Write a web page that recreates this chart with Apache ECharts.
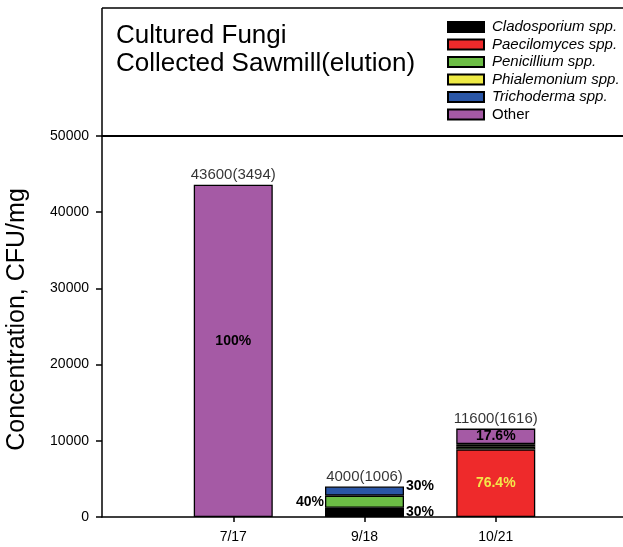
<!DOCTYPE html>
<html>
<head>
<meta charset="utf-8">
<script src="https://cdn.jsdelivr.net/npm/echarts@6/dist/echarts.min.js"></script>
<style>
  html, body { margin: 0; padding: 0; background: #fff; }
  #chart { width: 623px; height: 547px; }
</style>
</head>
<body>
<div id="chart"></div>
<script>
// Sampling dates and totals (mean and SD, CFU/mg)
const dates = ['7/17', '9/18', '10/21'];
const totals = [43600, 4000, 11600];
const sds = [3494, 1006, 1616];

// Stacked contributions by genus
const cladosporium = [0, 1200, 0];
const paecilomyces = [0, 0, 8862];
const penicillium = [0, 1600, 348];
const phialemonium = [0, 0, 348];
const trichoderma = [0, 1200, 0];
const other = [43600, 0, 2042];

// Share labels written on the segments
const cladosporiumPct = ['', '30%', ''];
const paecilomycesPct = ['', '', '76.4%'];
const penicilliumPct = ['', '40%', ''];
const phialemoniumPct = ['', '', ''];
const trichodermaPct = ['', '30%', ''];
const otherPct = ['100%', '', '17.6%'];

// Value axis ticks
const yMin = 0, yMax = 50000, yStep = 10000;

const FONT = '"Liberation Sans", Arial, Helvetica, sans-serif';

// empty slots at both ends keep the axis running from the y axis to the right edge
const cats = [''].concat(dates, ['']);
const pad = arr => [null].concat(arr, [null]);

function segData(values, pcts, labelCfg) {
  return pad(values.map((v, i) => {
    if (!v) return null;
    const item = { value: v };
    if (pcts[i]) {
      item.label = Object.assign({ show: true, formatter: pcts[i] }, labelCfg(i));
    } else {
      item.label = { show: false };
    }
    return item;
  }));
}

const pctStyle = { fontSize: 14, fontWeight: 'bold', color: '#000', fontFamily: FONT };

const seriesDefs = [
  { name: 'Cladosporium spp.', color: '#000000', values: cladosporium, pcts: cladosporiumPct,
    label: () => ({ position: 'right', distance: 2 }) },
  { name: 'Paecilomyces spp.', color: '#EE2A2B', values: paecilomyces, pcts: paecilomycesPct,
    label: () => ({ position: 'inside', color: '#F4E64A' }) },
  { name: 'Penicillium spp.', color: '#6CBD45', values: penicillium, pcts: penicilliumPct,
    label: () => ({ position: 'left', distance: 1 }) },
  { name: 'Phialemonium spp.', color: '#EEEA45', values: phialemonium, pcts: phialemoniumPct,
    label: () => ({ position: 'inside' }) },
  { name: 'Trichoderma spp.', color: '#2A56A6', values: trichoderma, pcts: trichodermaPct,
    label: () => ({ position: ['100%', 0], align: 'left', verticalAlign: 'middle', offset: [2, 0] }) },
  { name: 'Other', color: '#A55AA5', values: other, pcts: otherPct,
    label: i => (i === 0 ? { position: 'inside', offset: [0, -10] } : { position: 'inside' }) }
];

const barSeries = seriesDefs.map(d => ({
  name: d.name,
  type: 'bar',
  stack: 'fungi',
  barWidth: 79,
  itemStyle: { color: d.color, borderColor: '#000', borderWidth: 1.3 },
  label: Object.assign({}, pctStyle),
  emphasis: { disabled: true },
  data: segData(d.values, d.pcts, d.label)
}));

// totals written above each stack, plus the frame line at the axis maximum
const totalSeries = {
  name: 'total',
  type: 'scatter',
  symbolSize: 0,
  silent: true,
  z: 10,
  data: pad(totals),
  label: {
    show: true,
    position: 'top',
    distance: 2,
    fontSize: 15,
    color: '#000',
    fontFamily: FONT,
    formatter: p => totals[p.dataIndex - 1] + '(' + sds[p.dataIndex - 1] + ')'
  },
  markLine: {
    silent: true,
    symbol: 'none',
    label: { show: false },
    lineStyle: { color: '#000', width: 2, type: 'solid' },
    data: [{ yAxis: yMax }]
  }
};

const chart = echarts.init(document.getElementById('chart'), null, { renderer: 'canvas' });

chart.setOption({
  animation: false,
  backgroundColor: '#fff',
  textStyle: { fontFamily: FONT, color: '#000' },
  title: {
    text: 'Cultured Fungi\nCollected Sawmill(elution)',
    left: 116,
    top: 22,
    padding: 0,
    textStyle: { fontSize: 26, fontWeight: 'normal', color: '#000', lineHeight: 28, fontFamily: FONT }
  },
  legend: {
    orient: 'vertical',
    left: 447,
    top: 19.5,
    padding: 0,
    itemWidth: 36,
    itemHeight: 10,
    itemGap: 2.5,
    icon: 'rect',
    selectedMode: false,
    textStyle: { fontSize: 15, color: '#000', fontFamily: FONT, padding: [0, 0, 0, 3] },
    data: seriesDefs.map(d => ({
      name: d.name,
      textStyle: { fontStyle: d.name === 'Other' ? 'normal' : 'italic' }
    }))
  },
  grid: { left: 102, top: 136, width: 525, height: 381, outerBoundsMode: 'none' },
  xAxis: {
    type: 'category',
    data: cats,
    boundaryGap: false,
    axisLine: { lineStyle: { color: '#000', width: 1.5 } },
    axisTick: {
      show: true,
      length: 5,
      interval: i => i >= 1 && i <= dates.length,
      lineStyle: { color: '#000', width: 1.5 }
    },
    axisLabel: { interval: 0, fontSize: 14, color: '#000', margin: 13, fontFamily: FONT },
    splitLine: { show: false }
  },
  yAxis: {
    type: 'value',
    min: yMin,
    max: yMax,
    interval: yStep,
    name: 'Concentration, CFU/mg',
    nameLocation: 'middle',
    nameGap: 72,
    nameTextStyle: { fontSize: 25, color: '#000', fontFamily: FONT, padding: [0, 0, 0, 14] },
    axisLine: { show: true, lineStyle: { color: '#000', width: 1.5 } },
    axisTick: { show: true, length: 6, lineStyle: { color: '#000', width: 1.5 } },
    axisLabel: { fontSize: 14, color: '#000', margin: 13, fontFamily: FONT, formatter: v => String(v) },
    splitLine: { show: false }
  },
  graphic: [
    { type: 'line', silent: true, shape: { x1: 102, y1: 8, x2: 623, y2: 8 },
      style: { stroke: '#000', lineWidth: 1.5 } },
    { type: 'line', silent: true, shape: { x1: 102, y1: 8, x2: 102, y2: 137 },
      style: { stroke: '#000', lineWidth: 1.5 } }
  ],
  series: barSeries.concat([totalSeries])
});
</script>
</body>
</html>
